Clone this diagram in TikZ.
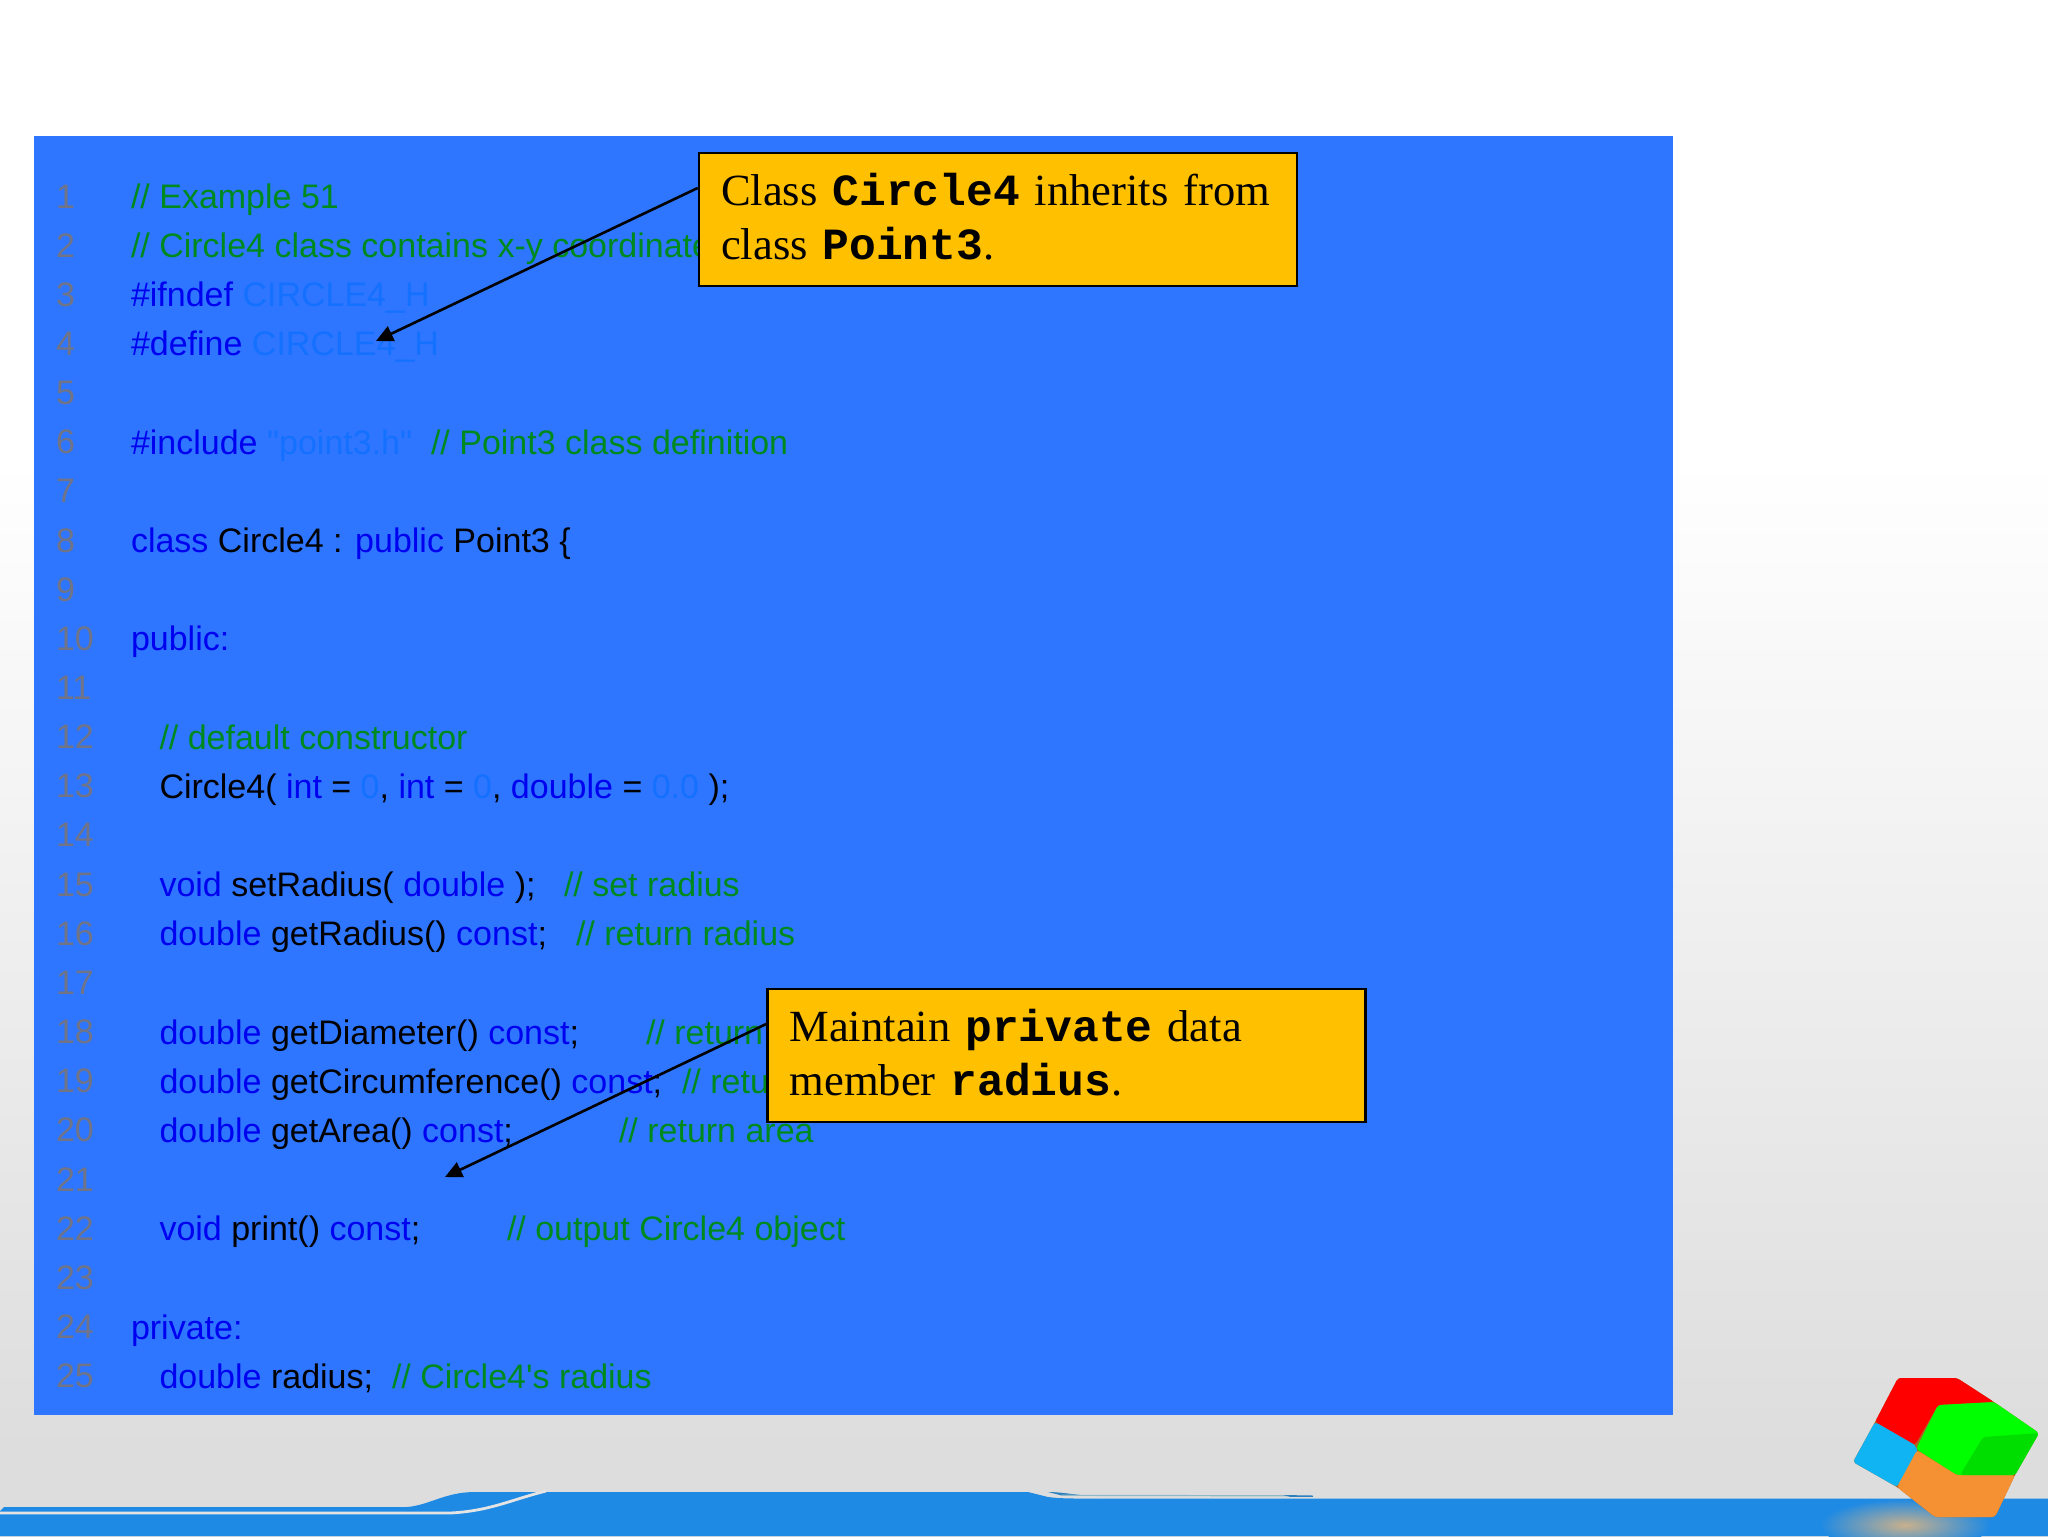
\documentclass[tikz,border=0pt]{standalone}
\usepackage{fontspec}
\setmainfont{Liberation Serif}
\setmonofont{Liberation Mono}
\newfontfamily\codefont{Liberation Sans}
\usetikzlibrary{arrows.meta}
\definecolor{panelblue}{HTML}{2E76FF}
\definecolor{bandblue}{HTML}{1F8AE3}
\definecolor{bggrey}{HTML}{DDDDDE}
\definecolor{stripegrey}{HTML}{E4E4E4}
\definecolor{sliverblue}{HTML}{2C80BE}
\definecolor{sliverline}{HTML}{8FB8C8}
\definecolor{lineno}{HTML}{707486}
\definecolor{cmtgreen}{HTML}{008A1E}
\definecolor{kwblue}{HTML}{0000F0}
\definecolor{strblue}{HTML}{1470FF}
\definecolor{calloutfill}{HTML}{FFC000}
\definecolor{cubeblue}{HTML}{10B4F2}
\definecolor{cubeorange}{HTML}{F59132}
\definecolor{glowtan}{HTML}{C9B08C}
\pgfdeclareverticalshading{slidebg}{100bp}{color(0bp)=(bggrey); color(27.8bp)=(bggrey); color(60bp)=(white); color(100bp)=(white)}
\newcommand{\kw}[1]{\textcolor{kwblue}{#1}}
\newcommand{\cmt}[1]{\textcolor{cmtgreen}{#1}}
\newcommand{\strl}[1]{\textcolor{strblue}{#1}}
\newcommand{\cbf}[1]{{\ttfamily\bfseries #1}}
\tikzset{
  codeln/.style={anchor=base west,inner sep=0pt,outer sep=0pt,font=\codefont\fontsize{17}{20}\selectfont},
  linenum/.style={codeln,text=lineno},
  callout/.style={draw=black,line width=1.2pt,fill=calloutfill,minimum width=299pt,minimum height=66.5pt,
    text width=277pt,text height=16pt,text depth=30.5pt,inner xsep=11pt,inner ysep=0pt,align=left,
    font=\fontsize{22.3}{27}\selectfont},
  callarrow/.style={draw=black,line width=1.3pt,-{Triangle[length=8.5pt,width=8pt]}},
  bandpart/.style={fill=bandblue,draw=none},
  stripe/.style={draw=stripegrey,line width=1.4pt},
  cubeface/.style={draw=none,rounded corners=1.5pt}
}
\begin{document}
\begin{tikzpicture}[x=0.5pt,y=-0.5pt]
\useasboundingbox (0,0) rectangle (2048,1536);
% slide background
\shade[shading=slidebg] (0,0) rectangle (2048,1536);
% bottom band
\fill[bandpart] (0,1536) -- (0,1511) -- (4,1507) -- (407,1507) .. controls (430,1505) and (445,1492) .. (475,1492) -- (1028,1492) -- (1048,1497) .. controls (1060,1498.5) and (1070,1498.5) .. (1083,1498.5) -- (2048,1498.5) -- (2048,1536) -- cycle;
\draw[stripe] (0,1513) -- (450,1513) .. controls (490,1511) and (510,1500) .. (546,1491);
\fill[fill=sliverblue] (1048,1492) .. controls (1060,1492) and (1070,1494) .. (1085,1495.5) -- (1062,1495.5) -- cycle;
\draw[sliverline,line width=0.6pt] (1062,1495.3) -- (1290,1495.8);
\fill[fill=sliverblue] (1283,1495) -- (1313,1495.5) -- (1313,1496.8) -- (1290,1496.8) -- cycle;
% reflection of the cube
\begin{scope}
\clip (1820,1498.5) rectangle (2000,1536);
\shade[inner color=glowtan,outer color=bandblue] (1905,1525) ellipse (85 and 26);
\end{scope}
% cube
\fill[cubeface,fill=black!30!cubeorange] (1898,1378) -- (1957,1378) -- (1994,1402) -- (2039,1433) -- (2015,1475) -- (1995,1517) -- (1935,1517) -- (1897,1487) -- (1853,1462) -- (1875,1422) -- cycle;
\fill[cubeface,fill=red] (1898,1378) -- (1957,1378) -- (1994,1402) -- (1938,1405) -- (1915,1445) -- (1875,1422) -- cycle;
\fill[cubeface,fill=cubeblue] (1875,1422) -- (1915,1445) -- (1918,1452) -- (1897,1487) -- (1853,1462) -- cycle;
\fill[cubeface,fill=cubeorange] (1917,1450) -- (1957,1475) -- (2015,1475) -- (1995,1517) -- (1935,1517) -- (1897,1487) -- cycle;
\fill[cubeface,fill=green] (1938,1405) -- (1994,1402) -- (2039,1433) -- (2015,1475) -- (1957,1475) -- (1916,1449) -- cycle;
\fill[cubeface,fill=green!87!black] (1983,1437) -- (2039,1433) -- (2015,1475) -- (1960,1475) -- cycle;
% code panel
\fill[panelblue] (34,136) rectangle (1673,1415);
\foreach \n in {1,...,25}
  \node[linenum] (n\n) at (56,{208+49.15*(\n-1)}) {\n};
\node[codeln] (l1) at (131,208) {\cmt{// Example 51}};
\node[codeln] (l2) at (131,257) {\cmt{// Circle4 class contains x-y coordinate}};
\node[codeln] (l3) at (131,306) {\kw{\#ifndef} \strl{CIRCLE4\_H}};
\node[codeln] (l4) at (131,355.5) {\kw{\#define} \strl{CIRCLE4\_H}};
\node[codeln] (l6) at (131,454) {\kw{\#include} \strl{"point3.h"}};
\node[codeln] (c6) at (431,454) {\cmt{// Point3 class definition}};
\node[codeln] (l8) at (131,552) {\kw{class} Circle4 : \kw{public} Point3 \{};
\node[codeln] (l10) at (131,650.5) {\kw{public:}};
\node[codeln] (l12) at (159.5,749) {\cmt{// default constructor}};
\node[codeln] (l13) at (159.5,798) {Circle4( \kw{int} = \strl{0}, \kw{int} = \strl{0}, \kw{double} = \strl{0.0} );};
\node[codeln] (l15) at (159.5,896) {\kw{void} setRadius( \kw{double} );};
\node[codeln] (c15) at (564,896) {\cmt{// set radius}};
\node[codeln] (l16) at (159.5,945.5) {\kw{double} getRadius() \kw{const};};
\node[codeln] (c16) at (576,945.5) {\cmt{// return radius}};
\node[codeln] (l18) at (159.5,1044) {\kw{double} getDiameter() \kw{const};};
\node[codeln] (c18) at (646,1044) {\cmt{// return}};
\node[codeln] (l19) at (159.5,1093) {\kw{double} getCircumference() \kw{const};};
\node[codeln] (c19) at (682,1093) {\cmt{// return}};
\node[codeln] (l20) at (159.5,1142) {\kw{double} getArea() \kw{const};};
\node[codeln] (c20) at (619,1142) {\cmt{// return area}};
\node[codeln] (l22) at (159.5,1240) {\kw{void} print() \kw{const};};
\node[codeln] (c22) at (507,1240) {\cmt{// output Circle4 object}};
\node[codeln] (l24) at (131,1339) {\kw{private:}};
\node[codeln] (l25) at (159.5,1388) {\kw{double} radius;};
\node[codeln] (c25) at (392,1388) {\cmt{// Circle4's radius}};
% callouts
\coordinate (tip1) at (376,341);
\coordinate (tip2) at (445,1177);
\node[callout] (box1) at (998,219.5) {Class \cbf{Circle4} inherits from\\class \cbf{Point3}.};
\node[callout] (box2) at (1066.5,1055.5) {Maintain \cbf{private} data\\member \cbf{radius}.};
\draw[callarrow] (box1.174.5) -- (tip1);
\draw[callarrow] (box2.174.5) -- (tip2);
\end{tikzpicture}
\end{document}
